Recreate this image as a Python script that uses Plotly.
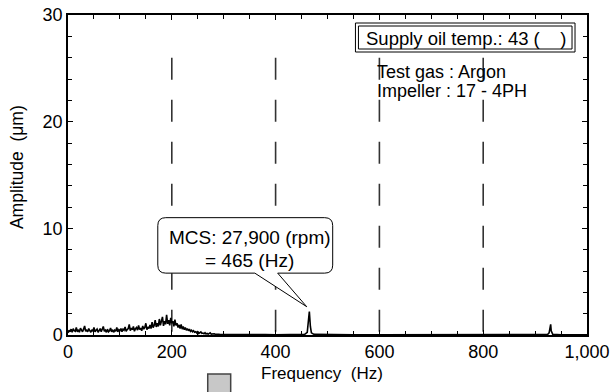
import plotly.graph_objects as go

# ---- data ----
noise_freq = list(range(0, 300, 2))
noise_amp = [
    # 0-98 Hz
    0.2, 0.45, 0.3, 0.55, 0.25, 0.6, 0.4, 0.35, 0.7, 0.3, 0.5, 0.25, 0.65, 0.4, 0.3, 0.55, 0.85, 0.35, 0.45, 0.3,
    0.6, 0.4, 0.25, 0.5, 0.35, 0.7, 0.3, 0.45, 0.55, 0.25, 0.4, 0.6, 0.3, 0.5, 0.8, 0.35, 0.45, 0.25, 0.55, 0.3,
    0.4, 0.65, 0.3, 0.5, 0.25, 0.45, 0.35, 0.7, 0.3, 0.5,
    # 100-158 Hz
    0.4, 0.6, 0.3, 0.55, 0.45, 0.75, 0.35, 0.5, 0.6, 1.0, 0.4, 0.65, 0.5, 0.8, 0.35, 0.6, 0.7, 0.45, 0.9, 0.5,
    0.65, 0.4, 0.85, 0.55, 0.7, 1.1, 0.5, 0.75, 0.6, 0.95,
    # 160-208 Hz
    0.6, 1.2, 0.7, 0.9, 1.4, 0.75, 1.1, 0.8, 1.5, 0.9, 1.25, 1.7, 0.85, 1.3, 1.0, 1.9, 1.05, 1.4, 0.9, 1.6,
    1.1, 1.3, 0.8, 1.45, 0.9,
    # 210-238 Hz
    1.1, 0.7, 0.95, 0.6, 1.0, 0.55, 0.8, 0.5, 0.7, 0.45, 0.6, 0.4, 0.55, 0.35, 0.45,
    # 240-298 Hz
    0.3, 0.4, 0.25, 0.3, 0.2, 0.35, 0.15, 0.2, 0.3, 0.15, 0.18, 0.12, 0.22, 0.1, 0.15, 0.08, 0.12, 0.2, 0.08, 0.1,
    0.07, 0.12, 0.06, 0.08, 0.05, 0.07, 0.06, 0.05, 0.06, 0.05,
]
tail_freq = [300, 320, 340, 360, 380, 400, 420, 440, 456, 461, 463, 465, 467, 469, 474,
             500, 550, 600, 650, 700, 750, 800, 850, 900, 924, 927, 929, 930, 931, 934,
             950, 1000]
tail_amp = [0.05, 0.04, 0.06, 0.03, 0.04, 0.03, 0.04, 0.03, 0.06, 0.25, 1.0, 2.2, 0.8, 0.2, 0.06,
            0.03, 0.03, 0.02, 0.03, 0.02, 0.02, 0.02, 0.02, 0.03, 0.05, 0.2, 0.6, 1.0, 0.4, 0.06,
            0.03, 0.02]

x_ticks = [0, 200, 400, 600, 800, 1000]
x_tick_labels = ["0", "200", "400", "600", "800", "1,000"]
y_ticks = [0, 10, 20, 30]
grid_lines = [200, 400, 600, 800]
grid_top = 26
peak_freq = 465
peak_amp = 2.2

freq = noise_freq + tail_freq
amp = noise_amp + tail_amp

FONT = "Arial, Liberation Sans, sans-serif"
FS = 18

fig = go.Figure()
fig.add_trace(go.Scatter(x=freq, y=amp, mode="lines",
                         line=dict(color="black", width=1.6), showlegend=False,
                         hoverinfo="skip"))

shapes = []
for g in grid_lines:
    shapes.append(dict(type="line", xref="x", yref="y", x0=g, x1=g, y0=grid_top, y1=0,
                       line=dict(color="#333333", width=1.6, dash="22px,20px"), layer="below"))

# callout box (data coords, anchored to peak)
px_per_x = 520 / 1000
px_per_y = 320 / 30
x0, x1 = 173, 510
yb, yt = 5.8, 11.0
rx, ry = 8 / px_per_x, 8 / px_per_y
tipx, tipy = peak_freq - 5, peak_amp + 0.45
p1, p2 = 360, 404
path = (f"M {x0+rx},{yt} L {x1-rx},{yt} Q {x1},{yt} {x1},{yt-ry} L {x1},{yb+ry} "
        f"Q {x1},{yb} {x1-rx},{yb} L {p2},{yb} L {tipx},{tipy} L {p1},{yb} "
        f"L {x0+rx},{yb} Q {x0},{yb} {x0},{yb+ry} L {x0},{yt-ry} Q {x0},{yt} {x0+rx},{yt} Z")
shapes.append(dict(type="path", xref="x", yref="y", path=path,
                   fillcolor="white", line=dict(color="black", width=1)))

def px2paper_x(p):
    return (p - 68) / 520
def px2paper_y(p):
    return (335 - p) / 320

# supply oil temp double box (paper)
shapes.append(dict(type="rect", xref="paper", yref="paper",
                   x0=px2paper_x(356), x1=px2paper_x(576), y0=px2paper_y(52), y1=px2paper_y(23),
                   line=dict(color="black", width=1), fillcolor="white"))
shapes.append(dict(type="rect", xref="paper", yref="paper",
                   x0=px2paper_x(359), x1=px2paper_x(573), y0=px2paper_y(49), y1=px2paper_y(26),
                   line=dict(color="black", width=1)))
# gray square at bottom
shapes.append(dict(type="rect", xref="paper", yref="paper",
                   x0=px2paper_x(208), x1=px2paper_x(231), y0=px2paper_y(396), y1=px2paper_y(374),
                   line=dict(color="#444444", width=1.5), fillcolor="#c8c8c8"))

def txt(text, xp, yp, anchor="left", size=FS, angle=0):
    return dict(text=text, xref="paper", yref="paper", textangle=angle,
                x=px2paper_x(xp), y=px2paper_y(yp), xanchor=anchor, yanchor="middle",
                showarrow=False, font=dict(size=size, color="black", family=FONT))

annotations = [
    txt("Supply oil temp.: 43 (    )", 365, 38, size=18.5),
    txt("Test gas : Argon", 376, 72),
    txt("Impeller : 17 - 4PH", 376, 91),
    txt("MCS: 27,900 (rpm)", 250, 237, "center", 19),
    txt("= 465 (Hz)", 250, 260, "center", 19),
    txt("Frequency  (Hz)", 259, 373, size=17),
    txt("Amplitude  (μm)", 17, 167, "center", 17.5, -90),
]

axis_common = dict(showline=True, linecolor="black", linewidth=1.5, mirror="allticks",
                   ticks="inside", ticklen=5, tickcolor="black", tickwidth=1,
                   showgrid=False, zeroline=False, automargin=False,
                   tickfont=dict(size=FS, color="black", family=FONT))

fig.update_layout(
    width=613, height=392,
    margin=dict(l=68, r=26, t=15, b=57, autoexpand=False),
    paper_bgcolor="white", plot_bgcolor="white",
    xaxis=dict(range=[0, 1000], tickvals=x_ticks, ticktext=x_tick_labels,
               minor=dict(dtick=50, ticks="inside", ticklen=4, tickcolor="black"),
               **axis_common),
    yaxis=dict(range=[0, 30], tickvals=y_ticks,
               minor=dict(dtick=2, ticks="inside", ticklen=4, tickcolor="black"),
               **axis_common),
    shapes=shapes,
    annotations=annotations,
)

# remove the default 8px page margin so the figure fills the window
fig.write_html("out.html", config={"displayModeBar": False},
               post_script="document.body.style.margin='0';document.body.style.overflow='hidden';")
